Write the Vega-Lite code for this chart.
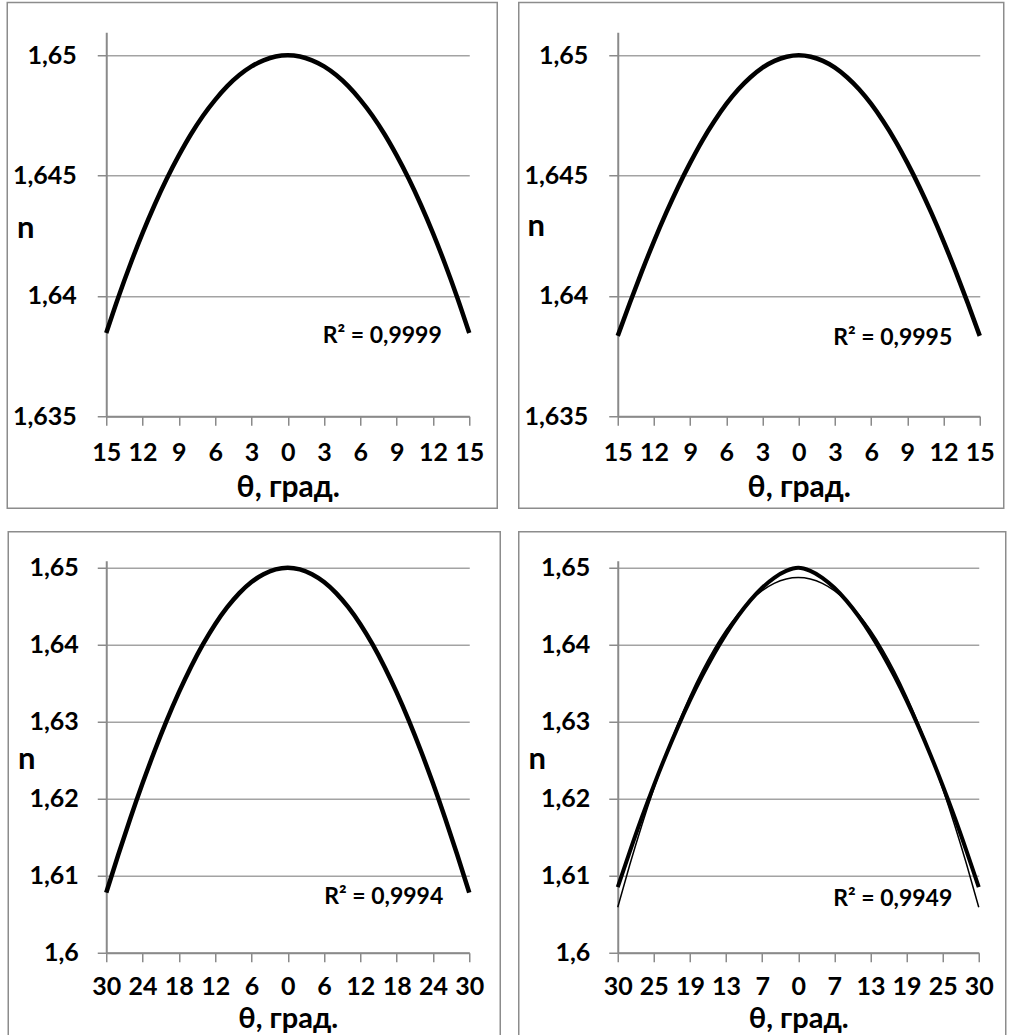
{
  "$schema": "https://vega.github.io/schema/vega-lite/v6.json",
  "padding": {"left": 6.25, "top": 1.25, "right": 0, "bottom": 0},
  "background": "white",
  "datasets": {
    "p1": [
      {"theta": -15, "n": 1.63846}, {"theta": -14, "n": 1.63995}, {"theta": -13, "n": 1.64133}, {"theta": -12, "n": 1.64261},
      {"theta": -11, "n": 1.64379}, {"theta": -10, "n": 1.64487}, {"theta": -9, "n": 1.64584}, {"theta": -8, "n": 1.64672},
      {"theta": -7, "n": 1.64749}, {"theta": -6, "n": 1.64815}, {"theta": -5, "n": 1.64872}, {"theta": -4, "n": 1.64918},
      {"theta": -3, "n": 1.64954}, {"theta": -2, "n": 1.64979}, {"theta": -1, "n": 1.64995}, {"theta": 0, "n": 1.65},
      {"theta": 1, "n": 1.64995}, {"theta": 2, "n": 1.64979}, {"theta": 3, "n": 1.64954}, {"theta": 4, "n": 1.64918},
      {"theta": 5, "n": 1.64872}, {"theta": 6, "n": 1.64815}, {"theta": 7, "n": 1.64749}, {"theta": 8, "n": 1.64672},
      {"theta": 9, "n": 1.64584}, {"theta": 10, "n": 1.64487}, {"theta": 11, "n": 1.64379}, {"theta": 12, "n": 1.64261},
      {"theta": 13, "n": 1.64133}, {"theta": 14, "n": 1.63995}, {"theta": 15, "n": 1.63846}
    ],
    "p2": [
      {"theta": -15, "n": 1.63834}, {"theta": -14, "n": 1.63971}, {"theta": -13, "n": 1.64102}, {"theta": -12, "n": 1.64227},
      {"theta": -11, "n": 1.64344}, {"theta": -10, "n": 1.64453}, {"theta": -9, "n": 1.64553}, {"theta": -8, "n": 1.64645},
      {"theta": -7, "n": 1.64726}, {"theta": -6, "n": 1.64798}, {"theta": -5, "n": 1.64859}, {"theta": -4, "n": 1.64909},
      {"theta": -3, "n": 1.64949}, {"theta": -2, "n": 1.64977}, {"theta": -1, "n": 1.64994}, {"theta": 0, "n": 1.65},
      {"theta": 1, "n": 1.64994}, {"theta": 2, "n": 1.64977}, {"theta": 3, "n": 1.64949}, {"theta": 4, "n": 1.64909},
      {"theta": 5, "n": 1.64859}, {"theta": 6, "n": 1.64798}, {"theta": 7, "n": 1.64726}, {"theta": 8, "n": 1.64645},
      {"theta": 9, "n": 1.64553}, {"theta": 10, "n": 1.64453}, {"theta": 11, "n": 1.64344}, {"theta": 12, "n": 1.64227},
      {"theta": 13, "n": 1.64102}, {"theta": 14, "n": 1.63971}, {"theta": 15, "n": 1.63834}
    ],
    "p3": [
      {"theta": -30, "n": 1.60781}, {"theta": -28, "n": 1.61276}, {"theta": -26, "n": 1.6175}, {"theta": -24, "n": 1.622},
      {"theta": -22, "n": 1.62623}, {"theta": -20, "n": 1.63018}, {"theta": -18, "n": 1.63381}, {"theta": -16, "n": 1.63712},
      {"theta": -14, "n": 1.64007}, {"theta": -12, "n": 1.64267}, {"theta": -10, "n": 1.64488}, {"theta": -8, "n": 1.64671},
      {"theta": -6, "n": 1.64815}, {"theta": -4, "n": 1.64917}, {"theta": -2, "n": 1.64979}, {"theta": 0, "n": 1.65},
      {"theta": 2, "n": 1.64979}, {"theta": 4, "n": 1.64917}, {"theta": 6, "n": 1.64815}, {"theta": 8, "n": 1.64671},
      {"theta": 10, "n": 1.64488}, {"theta": 12, "n": 1.64267}, {"theta": 14, "n": 1.64007}, {"theta": 16, "n": 1.63712},
      {"theta": 18, "n": 1.63381}, {"theta": 20, "n": 1.63018}, {"theta": 22, "n": 1.62623}, {"theta": 24, "n": 1.622},
      {"theta": 26, "n": 1.6175}, {"theta": 28, "n": 1.61276}, {"theta": 30, "n": 1.60781}
    ],
    "p4": [
      {"theta": -30, "n": 1.60851, "series": "data"}, {"theta": -28, "n": 1.61313, "series": "data"}, {"theta": -26, "n": 1.61756, "series": "data"},
      {"theta": -24, "n": 1.62173, "series": "data"}, {"theta": -22, "n": 1.62566, "series": "data"}, {"theta": -20, "n": 1.62934, "series": "data"},
      {"theta": -18, "n": 1.63277, "series": "data"}, {"theta": -16, "n": 1.63592, "series": "data"}, {"theta": -14, "n": 1.63881, "series": "data"},
      {"theta": -12, "n": 1.64142, "series": "data"}, {"theta": -10, "n": 1.64373, "series": "data"}, {"theta": -8, "n": 1.64573, "series": "data"},
      {"theta": -6, "n": 1.6474, "series": "data"}, {"theta": -4, "n": 1.6487, "series": "data"}, {"theta": -2, "n": 1.6496, "series": "data"},
      {"theta": 0, "n": 1.65, "series": "data"},
      {"theta": 2, "n": 1.6496, "series": "data"}, {"theta": 4, "n": 1.6487, "series": "data"}, {"theta": 6, "n": 1.6474, "series": "data"},
      {"theta": 8, "n": 1.64573, "series": "data"}, {"theta": 10, "n": 1.64373, "series": "data"}, {"theta": 12, "n": 1.64142, "series": "data"},
      {"theta": 14, "n": 1.63881, "series": "data"}, {"theta": 16, "n": 1.63592, "series": "data"}, {"theta": 18, "n": 1.63277, "series": "data"},
      {"theta": 20, "n": 1.62934, "series": "data"}, {"theta": 22, "n": 1.62566, "series": "data"}, {"theta": 24, "n": 1.62173, "series": "data"},
      {"theta": 26, "n": 1.61756, "series": "data"}, {"theta": 28, "n": 1.61313, "series": "data"}, {"theta": 30, "n": 1.60851, "series": "data"},
      {"theta": -30, "n": 1.6059, "series": "trend"}, {"theta": -28, "n": 1.61142, "series": "trend"}, {"theta": -26, "n": 1.61656, "series": "trend"},
      {"theta": -24, "n": 1.62132, "series": "trend"}, {"theta": -22, "n": 1.6257, "series": "trend"}, {"theta": -20, "n": 1.6297, "series": "trend"},
      {"theta": -18, "n": 1.63332, "series": "trend"}, {"theta": -16, "n": 1.63655, "series": "trend"}, {"theta": -14, "n": 1.63941, "series": "trend"},
      {"theta": -12, "n": 1.64189, "series": "trend"}, {"theta": -10, "n": 1.64398, "series": "trend"}, {"theta": -8, "n": 1.64569, "series": "trend"},
      {"theta": -6, "n": 1.64703, "series": "trend"}, {"theta": -4, "n": 1.64798, "series": "trend"}, {"theta": -2, "n": 1.64855, "series": "trend"},
      {"theta": 0, "n": 1.64874, "series": "trend"},
      {"theta": 2, "n": 1.64855, "series": "trend"}, {"theta": 4, "n": 1.64798, "series": "trend"}, {"theta": 6, "n": 1.64703, "series": "trend"},
      {"theta": 8, "n": 1.64569, "series": "trend"}, {"theta": 10, "n": 1.64398, "series": "trend"}, {"theta": 12, "n": 1.64189, "series": "trend"},
      {"theta": 14, "n": 1.63941, "series": "trend"}, {"theta": 16, "n": 1.63655, "series": "trend"}, {"theta": 18, "n": 1.63332, "series": "trend"},
      {"theta": 20, "n": 1.6297, "series": "trend"}, {"theta": 22, "n": 1.6257, "series": "trend"}, {"theta": 24, "n": 1.62132, "series": "trend"},
      {"theta": 26, "n": 1.61656, "series": "trend"}, {"theta": 28, "n": 1.61142, "series": "trend"}, {"theta": 30, "n": 1.6059, "series": "trend"}
    ]
  },
  "vconcat": [
    {
      "hconcat": [
        {
          "width": 363, "height": 384,
          "layer": [
            {
              "data": {"name": "p1"},
              "mark": {"type": "line", "color": "black", "strokeWidth": 4.5, "interpolate": "monotone"},
              "encoding": {
                "x": {"field": "theta", "type": "quantitative", "scale": {"domain": [-15, 15], "nice": false, "zero": false},
                  "axis": {"values": [-15, -12, -9, -6, -3, 0, 3, 6, 9, 12, 15], "tickCount": 11, "labelExpr": "'' + abs(datum.value)", "title": "θ, град.", "tickSize": 9, "labelPadding": 35, "labelBaseline": "alphabetic", "titleBaseline": "alphabetic", "titleY": 80}},
                "y": {"field": "n", "type": "quantitative", "scale": {"domain": [1.635, 1.65096], "nice": false, "zero": false},
                  "axis": {"values": [1.635, 1.64, 1.645, 1.65], "tickCount": 4, "labelExpr": "replace(format(datum.value, '~g'), '.', ',')", "title": "n", "titleAngle": 0, "titleAlign": "center", "titleBaseline": "alphabetic", "titleX": -81, "titleY": 205, "tickSize": 9, "labelPadding": 21, "grid": true}}
              }
            },
            {
              "data": {"values": [{}]},
              "mark": {"type": "rect", "filled": false, "stroke": "#8c8c8c", "strokeWidth": 1.5},
              "encoding": {
                "x": {"datum": -23.182, "type": "quantitative"},
                "x2": {"datum": 17.314},
                "y": {"datum": 1.6522, "type": "quantitative"},
                "y2": {"datum": 1.631177}
              }
            },
            {
              "data": {"values": [{}]},
              "mark": {"type": "text", "font": "Lato", "fontWeight": "bold", "fontSize": 23, "align": "center", "baseline": "alphabetic", "color": "black"},
              "encoding": {
                "x": {"datum": 7.81, "type": "quantitative"},
                "y": {"datum": 1.63803, "type": "quantitative"},
                "text": {"value": "R² = 0,9999"}
              }
            }
          ]
        },
        {
          "width": 362, "height": 384,
          "layer": [
            {
              "data": {"name": "p2"},
              "mark": {"type": "line", "color": "black", "strokeWidth": 4.5, "interpolate": "monotone"},
              "encoding": {
                "x": {"field": "theta", "type": "quantitative", "scale": {"domain": [-15, 15], "nice": false, "zero": false},
                  "axis": {"values": [-15, -12, -9, -6, -3, 0, 3, 6, 9, 12, 15], "tickCount": 11, "labelExpr": "'' + abs(datum.value)", "title": "θ, град.", "tickSize": 9, "labelPadding": 35, "labelBaseline": "alphabetic", "titleBaseline": "alphabetic", "titleY": 80}},
                "y": {"field": "n", "type": "quantitative", "scale": {"domain": [1.635, 1.65096], "nice": false, "zero": false},
                  "axis": {"values": [1.635, 1.64, 1.645, 1.65], "tickCount": 4, "labelExpr": "replace(format(datum.value, '~g'), '.', ',')", "title": "n", "titleAngle": 0, "titleAlign": "center", "titleBaseline": "alphabetic", "titleX": -82, "titleY": 203, "tickSize": 9, "labelPadding": 21, "grid": true}}
              }
            },
            {
              "data": {"values": [{}]},
              "mark": {"type": "rect", "filled": false, "stroke": "#8c8c8c", "strokeWidth": 1.5},
              "encoding": {
                "x": {"datum": -23.204, "type": "quantitative"},
                "x2": {"datum": 16.988},
                "y": {"datum": 1.6522, "type": "quantitative"},
                "y2": {"datum": 1.631177}
              }
            },
            {
              "data": {"values": [{}]},
              "mark": {"type": "text", "font": "Lato", "fontWeight": "bold", "fontSize": 23, "align": "center", "baseline": "alphabetic", "color": "black"},
              "encoding": {
                "x": {"datum": 7.79, "type": "quantitative"},
                "y": {"datum": 1.63795, "type": "quantitative"},
                "text": {"value": "R² = 0,9995"}
              }
            }
          ]
        }
      ],
      "spacing": 19.5
    },
    {
      "hconcat": [
        {
          "width": 363, "height": 392,
          "layer": [
            {
              "data": {"name": "p3"},
              "mark": {"type": "line", "color": "black", "strokeWidth": 4.5, "interpolate": "monotone"},
              "encoding": {
                "x": {"field": "theta", "type": "quantitative", "scale": {"domain": [-30, 30], "nice": false, "zero": false},
                  "axis": {"values": [-30, -24, -18, -12, -6, 0, 6, 12, 18, 24, 30], "tickCount": 11, "labelExpr": "'' + abs(datum.value)", "title": "θ, град.", "titleFontSize": 29, "tickSize": 9, "labelPadding": 33, "labelBaseline": "alphabetic", "titleBaseline": "alphabetic", "titleY": 75}},
                "y": {"field": "n", "type": "quantitative", "scale": {"domain": [1.6, 1.65091], "nice": false, "zero": false},
                  "axis": {"values": [1.6, 1.61, 1.62, 1.63, 1.64, 1.65], "tickCount": 6, "labelExpr": "replace(format(datum.value, '~g'), '.', ',')", "title": "n", "titleAngle": 0, "titleAlign": "center", "titleBaseline": "alphabetic", "titleX": -80, "titleY": 208, "tickSize": 9, "labelPadding": 19, "grid": true}}
              }
            },
            {
              "data": {"values": [{}]},
              "mark": {"type": "rect", "filled": false, "stroke": "#8c8c8c", "strokeWidth": 1.5},
              "encoding": {
                "x": {"datum": -46.198, "type": "quantitative"},
                "x2": {"datum": 35.124},
                "y": {"datum": 1.654675, "type": "quantitative"},
                "y2": {"datum": 1.58857}
              }
            },
            {
              "data": {"values": [{}]},
              "mark": {"type": "text", "font": "Lato", "fontWeight": "bold", "fontSize": 23, "align": "center", "baseline": "alphabetic", "color": "black"},
              "encoding": {
                "x": {"datum": 15.87, "type": "quantitative"},
                "y": {"datum": 1.60636, "type": "quantitative"},
                "text": {"value": "R² = 0,9994"}
              }
            }
          ]
        },
        {
          "width": 361, "height": 392,
          "layer": [
            {
              "data": {"name": "p4"},
              "transform": [{"filter": "datum.series === 'data'"}],
              "mark": {"type": "line", "color": "black", "strokeWidth": 4, "interpolate": "monotone"},
              "encoding": {
                "x": {"field": "theta", "type": "quantitative", "scale": {"domain": [-30, 30], "nice": false, "zero": false},
                  "axis": {"values": [-30, -24, -18, -12, -6, 0, 6, 12, 18, 24, 30], "tickCount": 11, "labelExpr": "abs(datum.value) == 24 ? '25' : abs(datum.value) == 18 ? '19' : abs(datum.value) == 12 ? '13' : abs(datum.value) == 6 ? '7' : '' + abs(datum.value)", "title": "θ, град.", "titleFontSize": 29, "tickSize": 9, "labelPadding": 33, "labelBaseline": "alphabetic", "titleBaseline": "alphabetic", "titleY": 75}},
                "y": {"field": "n", "type": "quantitative", "scale": {"domain": [1.6, 1.65091], "nice": false, "zero": false},
                  "axis": {"values": [1.6, 1.61, 1.62, 1.63, 1.64, 1.65], "tickCount": 6, "labelExpr": "replace(format(datum.value, '~g'), '.', ',')", "title": "n", "titleAngle": 0, "titleAlign": "center", "titleBaseline": "alphabetic", "titleX": -81, "titleY": 208, "tickSize": 9, "labelPadding": 19, "grid": true}}
              }
            },
            {
              "data": {"name": "p4"},
              "transform": [{"filter": "datum.series === 'trend'"}],
              "mark": {"type": "line", "color": "black", "strokeWidth": 1.5, "interpolate": "monotone"},
              "encoding": {
                "x": {"field": "theta", "type": "quantitative"},
                "y": {"field": "n", "type": "quantitative"}
              }
            },
            {
              "data": {"values": [{}]},
              "mark": {"type": "rect", "filled": false, "stroke": "#8c8c8c", "strokeWidth": 1.5},
              "encoding": {
                "x": {"datum": -46.454, "type": "quantitative"},
                "x2": {"datum": 34.487},
                "y": {"datum": 1.654675, "type": "quantitative"},
                "y2": {"datum": 1.58857}
              }
            },
            {
              "data": {"values": [{}]},
              "mark": {"type": "text", "font": "Lato", "fontWeight": "bold", "fontSize": 23, "align": "center", "baseline": "alphabetic", "color": "black"},
              "encoding": {
                "x": {"datum": 15.7, "type": "quantitative"},
                "y": {"datum": 1.6061, "type": "quantitative"},
                "text": {"value": "R² = 0,9949"}
              }
            }
          ]
        }
      ],
      "spacing": 16.5
    }
  ],
  "spacing": 21.5,
  "config": {
    "font": "Lato",
    "view": {"stroke": null},
    "axis": {
      "labelFont": "Lato", "labelFontWeight": "bold", "labelFontSize": 25, "labelColor": "black",
      "titleFont": "Lato", "titleFontWeight": "bold", "titleColor": "black",
      "domainColor": "#8a8a8a", "domainWidth": 2, "tickColor": "#8a8a8a", "tickWidth": 1.5,
      "gridColor": "#a3a3a3", "gridWidth": 1.5, "labelFlush": false, "labelOverlap": false
    },
    "axisX": {"titleFontSize": 30, "grid": false},
    "axisY": {"titleFontSize": 31}
  }
}
